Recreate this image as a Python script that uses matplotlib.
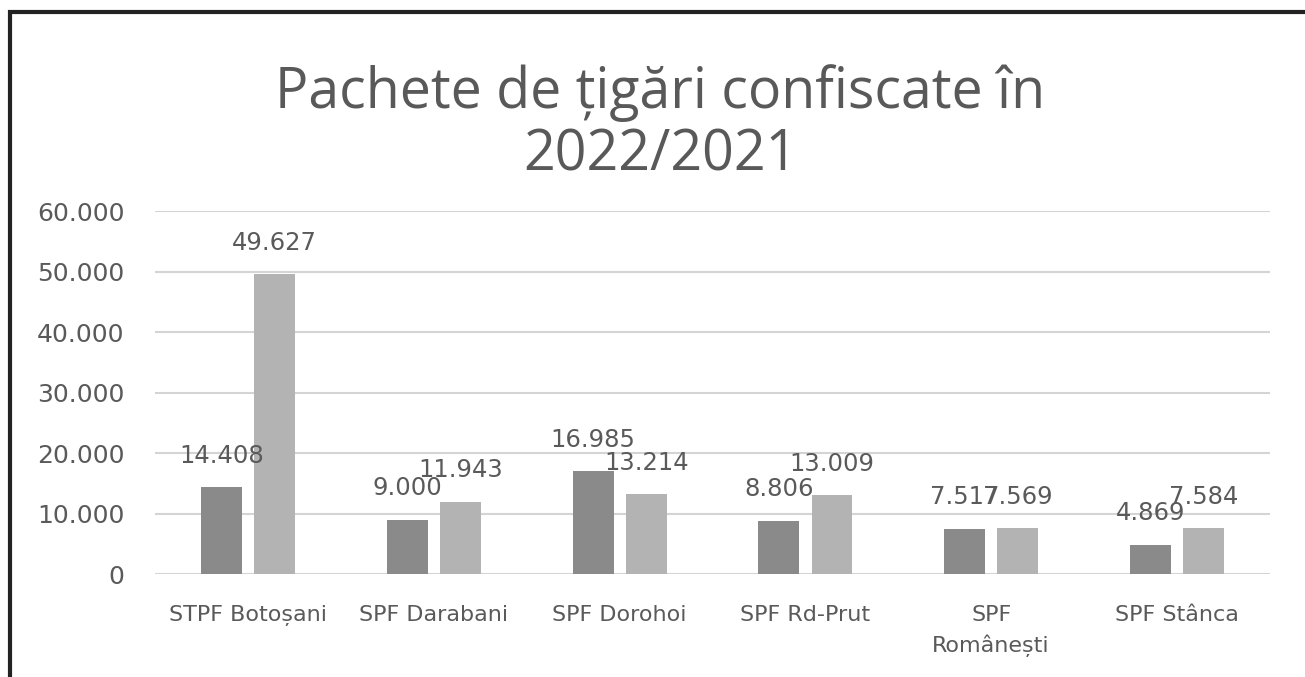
import matplotlib.pyplot as plt
import matplotlib.patches as mpatches
import numpy as np

# --- data ---
posts = ["STPF Botoșani", "SPF Darabani", "SPF Dorohoi", "SPF Rd-Prut",
         "SPF\nRomânești", "SPF Stânca"]
first_series = [14408, 9000, 16985, 8806, 7517, 4869]
second_series = [49627, 11943, 13214, 13009, 7569, 7584]
yticks = [0, 10000, 20000, 30000, 40000, 50000, 60000]


def fmt(v):
    # Romanian style thousands separator
    return f"{v:,}".replace(",", ".")


fig = plt.figure(figsize=(13.05, 6.77), dpi=100)
ax = fig.add_axes([0.119, 0.152, 0.854, 0.536])

x = np.arange(len(posts))
w = 0.22
off = 0.143
dark, light = "#8a8a8a", "#b3b3b3"
txt = "#5a5a5a"

b1 = ax.bar(x - off, first_series, w, color=dark, zorder=3)
b2 = ax.bar(x + off, second_series, w, color=light, zorder=3)

for bars, vals in ((b1, first_series), (b2, second_series)):
    for r, v in zip(bars, vals):
        ax.annotate(fmt(v), (r.get_x() + r.get_width() / 2, v),
                    xytext=(0, 14), textcoords="offset points",
                    ha="center", va="bottom", fontsize=17.5, color=txt,
                    family="DejaVu Sans", zorder=4)

ax.set_xlim(-0.5, len(posts) - 0.5)
ax.set_ylim(0, 60000)
ax.set_yticks(yticks)
ax.set_yticklabels([fmt(t) for t in yticks], fontsize=18, color=txt)
ax.set_xticks(x)
ax.set_xticklabels(posts, fontsize=16, color=txt, family="DejaVu Sans",
                   linespacing=1.55)
ax.tick_params(axis="both", length=0)
ax.tick_params(axis="y", pad=22)
ax.tick_params(axis="x", pad=22)
ax.grid(axis="y", color="#d4d4d4", linewidth=1.5, zorder=0)
for s in ax.spines.values():
    s.set_visible(False)

fig.text(0.506, 1 - 124 / 677, "Pachete de țigări confiscate în\n2022/2021",
         ha="center", va="center", fontsize=40, color="#595959",
         family="Open Sans", linespacing=1.12)

# scanned page frame (left and top edges)
fig.patches.append(mpatches.Rectangle((10 / 1305, -0.1), 1.2, 1 - 12 / 677 + 0.1,
                                      transform=fig.transFigure, fill=False,
                                      edgecolor="#222222", linewidth=3))

fig.savefig("out.png", dpi=100)
